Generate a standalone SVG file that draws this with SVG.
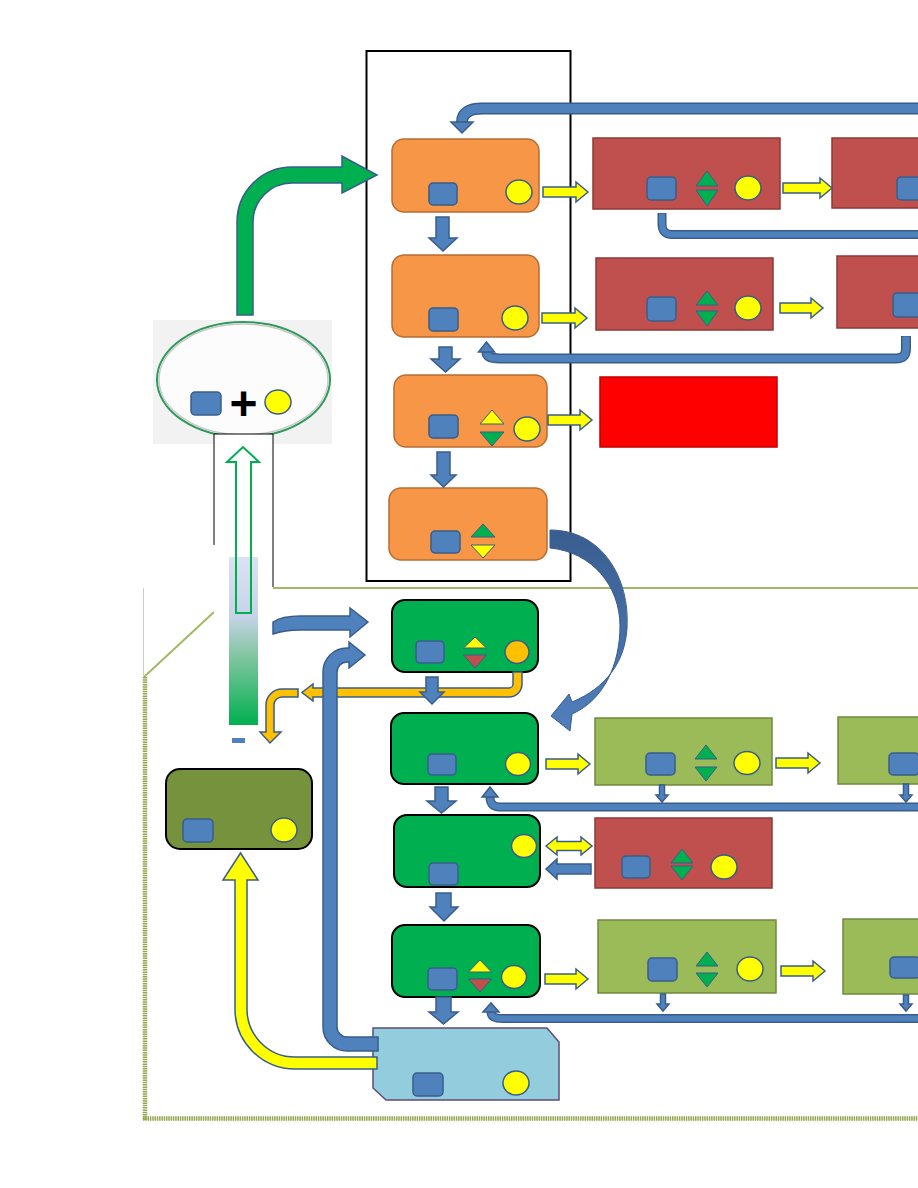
<svg xmlns="http://www.w3.org/2000/svg" width="918" height="1188" viewBox="0 0 918 1188">
<defs>
<style>
.sq{fill:#4f81bd;stroke:#385d8a;stroke-width:1.5}
.ye{fill:#ffff00;stroke:#385d8a;stroke-width:1.5}
.tg{fill:#00b050;stroke:#385d8a;stroke-width:1}
.ty{fill:#ffff00;stroke:#385d8a;stroke-width:1}
.tr{fill:#c0504d;stroke:#385d8a;stroke-width:1}
.org{fill:#f79646;stroke:#b66d31;stroke-width:1.5}
.red{fill:#c0504d;stroke:#8c3836;stroke-width:1.5}
.grn{fill:#00b050;stroke:#000;stroke-width:2}
.lgr{fill:#9bbb59;stroke:#71893f;stroke-width:1.5}
.ya{fill:#ffff00;stroke:#385d8a;stroke-width:1.5}
.ba{fill:#4f81bd;stroke:#385d8a;stroke-width:1.5}
.oa{fill:#ffc000;stroke:#385d8a;stroke-width:1.5}
.barO{fill:none;stroke:#385d8a}
.barI{fill:none;stroke:#4f81bd}
.olv{fill:none;stroke:#a3b866;stroke-width:2}
.dot{stroke:#94a650;stroke-width:4.5;stroke-dasharray:1.5 0.8}
</style>
<linearGradient id="tubeG" x1="0" y1="0" x2="0" y2="1">
<stop offset="0" stop-color="#dbe3f2"/>
<stop offset="0.35" stop-color="#c6d3e8"/>
<stop offset="0.6" stop-color="#7fc59e"/>
<stop offset="1" stop-color="#00b050"/>
</linearGradient>
<linearGradient id="curveG" x1="0" y1="0" x2="0" y2="1">
<stop offset="0" stop-color="#3a5d8f"/>
<stop offset="1" stop-color="#5080bd"/>
</linearGradient>
</defs>
<rect width="918" height="1188" fill="#fff"/>

<g id="frames">
<rect x="366.5" y="51" width="204" height="530" fill="none" stroke="#000" stroke-width="2"/>
<line x1="273" y1="588" x2="918" y2="588" class="olv"/>
<line x1="214" y1="612" x2="144" y2="677" class="olv"/>
<line x1="143.5" y1="588" x2="143.5" y2="677" stroke="#cccccc" stroke-width="1"/>
<line x1="145" y1="677" x2="145" y2="1120" class="dot"/>
<line x1="143" y1="1118.5" x2="918" y2="1118.5" class="dot"/>
</g>

<g id="source">
<rect x="153" y="320" width="179" height="124" fill="#f2f2f2"/>
<ellipse cx="243.5" cy="379.5" rx="86.5" ry="57.5" fill="#fcfcfc" stroke="#2e9a5c" stroke-width="2"/>
<ellipse cx="243.5" cy="379.5" rx="84.5" ry="55.5" fill="none" stroke="#c8c8c8" stroke-width="1.5"/>
<rect class="sq" x="191" y="392" width="30" height="23" rx="4"/>
<text x="243.5" y="420" font-family="Liberation Sans, Arial, sans-serif" font-size="48" font-weight="bold" text-anchor="middle" fill="#000">+</text>
<ellipse class="ye" cx="278" cy="402" rx="13" ry="12"/>
</g>

<g id="tube">
<rect x="214" y="434" width="59" height="314" fill="#fff"/>
<path d="M214 545 V434 H273 V587" fill="none" stroke="#000" stroke-width="1"/>
<rect x="229" y="557" width="29" height="168" fill="url(#tubeG)"/>
<path d="M236 613 V462 H227 L243 447 L259 462 H251 V613 Z" fill="none" stroke="#00b050" stroke-width="2"/>
<rect x="232" y="738" width="13" height="5" fill="#4f81bd"/>
</g>

<g id="n1">
<rect class="org" x="392" y="139" width="147" height="73" rx="12"/>
<rect class="sq" x="429" y="183" width="28" height="22" rx="4"/>
<ellipse class="ye" cx="519" cy="192" rx="13" ry="12"/>
</g>
<g id="n2">
<rect class="org" x="392" y="255" width="147" height="82" rx="12"/>
<rect class="sq" x="429" y="308" width="29" height="23" rx="4"/>
<ellipse class="ye" cx="515" cy="318" rx="13" ry="12"/>
</g>
<g id="n3">
<rect class="org" x="394" y="375" width="153" height="72" rx="12"/>
<rect class="sq" x="429" y="415" width="29" height="23" rx="4"/>
<path class="ty" d="M480 424 L492 410 L504 424 Z"/>
<path class="tg" d="M480 432 L504 432 L492 446 Z"/>
<ellipse class="ye" cx="527" cy="429" rx="13" ry="12"/>
</g>
<g id="n4">
<rect class="org" x="389" y="488" width="158" height="72" rx="12"/>
<rect class="sq" x="431" y="531" width="29" height="22" rx="4"/>
<path class="tg" d="M471 537 L483 524 L495 537 Z"/>
<path class="ty" d="M471 545 L495 545 L483 558 Z"/>
</g>

<g id="r1">
<rect class="red" x="593" y="138" width="187" height="71"/>
<rect class="sq" x="647" y="177" width="29" height="23" rx="4"/>
<path class="tg" d="M696 186 L707 171 L718 186 Z"/>
<path class="tg" d="M696 190 L718 190 L707 206 Z"/>
<ellipse class="ye" cx="748" cy="188" rx="13" ry="12"/>
</g>
<g id="r2">
<rect class="red" x="832" y="138" width="100" height="70"/>
<rect class="sq" x="897" y="177" width="30" height="23" rx="4"/>
</g>
<g id="r3">
<rect class="red" x="596" y="258" width="177" height="72"/>
<rect class="sq" x="647" y="297" width="29" height="24" rx="4"/>
<path class="tg" d="M696 305 L707 291 L718 305 Z"/>
<path class="tg" d="M696 311 L718 311 L707 326 Z"/>
<ellipse class="ye" cx="748" cy="308" rx="13" ry="12"/>
</g>
<g id="r4">
<rect class="red" x="837" y="256" width="100" height="72"/>
<rect class="sq" x="893" y="293" width="30" height="24" rx="4"/>
</g>
<g id="rAlarm">
<rect x="600" y="377" width="177" height="70" fill="#ff0000" stroke="#c00000" stroke-width="1.5"/>
</g>

<g id="g1">
<rect class="grn" x="392" y="600" width="146" height="72" rx="13"/>
<rect class="sq" x="416" y="641" width="28" height="22" rx="4"/>
<path class="ty" d="M463.5 648 L475 637 L486.5 648 Z"/>
<path class="tr" d="M463.5 655 L486.5 655 L475 668 Z"/>
<ellipse cx="517" cy="652" rx="12" ry="11.5" fill="#ffc000" stroke="#385d8a" stroke-width="1.5"/>
</g>
<g id="g2">
<rect class="grn" x="391" y="713" width="147" height="71" rx="13"/>
<rect class="sq" x="428" y="754" width="28" height="21" rx="4"/>
<ellipse class="ye" cx="518" cy="764" rx="12.5" ry="11.5"/>
</g>
<g id="g3">
<rect class="grn" x="394" y="815" width="146" height="72" rx="13"/>
<rect class="sq" x="429" y="863" width="29" height="22" rx="4"/>
<ellipse class="ye" cx="524" cy="846" rx="12.5" ry="11.5"/>
</g>
<g id="g4">
<rect class="grn" x="392" y="925" width="148" height="72" rx="13"/>
<rect class="sq" x="428" y="968" width="29" height="22" rx="4"/>
<path class="ty" d="M468.5 972 L480 960 L491.5 972 Z"/>
<path class="tr" d="M468.5 979 L491.5 979 L480 992 Z"/>
<ellipse class="ye" cx="514" cy="977" rx="12.5" ry="11.5"/>
</g>

<g id="lg1">
<rect class="lgr" x="595" y="718" width="177" height="67"/>
<rect class="sq" x="646" y="753" width="29" height="22" rx="4"/>
<path class="tg" d="M695 759 L706 745 L717 759 Z"/>
<path class="tg" d="M695 767 L717 767 L706 781 Z"/>
<ellipse class="ye" cx="747" cy="763" rx="13" ry="11.5"/>
</g>
<g id="lg2">
<rect class="lgr" x="838" y="717" width="100" height="67"/>
<rect class="sq" x="889" y="753" width="30" height="22" rx="4"/>
</g>
<g id="r5">
<rect class="red" x="595" y="818" width="177" height="70"/>
<rect class="sq" x="622" y="856" width="28" height="22" rx="4"/>
<path class="tg" d="M671 863 L682 849 L693 863 Z"/>
<path class="tg" d="M671 866 L693 866 L682 880 Z"/>
<ellipse class="ye" cx="724" cy="867" rx="13" ry="12"/>
</g>
<g id="lg3">
<rect class="lgr" x="598" y="920" width="178" height="73"/>
<rect class="sq" x="648" y="958" width="29" height="23" rx="4"/>
<path class="tg" d="M696 966 L707 952 L718 966 Z"/>
<path class="tg" d="M696 973 L718 973 L707 987 Z"/>
<ellipse class="ye" cx="750" cy="969" rx="13" ry="12"/>
</g>
<g id="lg4">
<rect class="lgr" x="843" y="919" width="100" height="75"/>
<rect class="sq" x="890" y="957" width="30" height="21" rx="4"/>
</g>

<g id="olive">
<rect x="166" y="769" width="146" height="80" rx="14" fill="#76923c" stroke="#000" stroke-width="2"/>
<rect class="sq" x="183" y="819" width="30" height="23" rx="4"/>
<ellipse class="ye" cx="284" cy="830" rx="13" ry="12"/>
</g>

<g id="bottom">
<path d="M373 1028 H547 L559 1042 V1100 H386 L373 1088 Z" fill="#93cddd" stroke="#604a7b" stroke-width="1.5"/>
<rect class="sq" x="413" y="1073" width="30" height="23" rx="4"/>
<ellipse class="ye" cx="516" cy="1083" rx="13" ry="12"/>
</g>

<g id="connectors">
<path d="M237 315 V222 A55 55 0 0 1 292 167 H342 V156 L377 175 L342 193 V183 H292 A39 39 0 0 0 253 222 V315 Z" fill="#00b050" stroke="#385d8a" stroke-width="1.5"/>
<path class="barO" stroke-width="12" d="M920 108.5 H482 Q462 108.5 462 122"/>
<path class="barI" stroke-width="9" d="M920 108.5 H482 Q462 108.5 462 122.5"/>
<path class="ba" d="M451 122 L473 122 L462 133 Z"/>
<path class="barO" stroke-width="9" d="M662 213 V224 Q662 234.5 672 234.5 H920"/>
<path class="barI" stroke-width="6" d="M662 213.5 V224 Q662 234.5 672 234.5 H920"/>
<path class="barO" stroke-width="10" d="M906 336 V349 Q906 358.5 896 358.5 H500 Q486.5 358.5 486.5 352"/>
<path class="barI" stroke-width="7" d="M906 336.5 V349 Q906 358.5 896 358.5 H500 Q486.5 358.5 486.5 352.5"/>
<path class="ba" d="M478.5 352 L494.5 352 L486.5 342 Z"/>
<path class="ba" d="M436 217 H449 V238 H457 L443 251 L429 238 H436 Z"/>
<path class="ba" d="M439 347 H452 V359 H460 L445.5 372 L431 359 H439 Z"/>
<path class="ba" d="M437 452 H450 V475 H456 L443.5 487 L431 475 H437 Z"/>
<path class="ya" d="M543 187 H576 V182 L588 192 L576 202 V197 H543 Z"/>
<path class="ya" d="M542 313 H575 V308 L587 318 L575 328 V323 H542 Z"/>
<path class="ya" d="M548 415 H580 V410 L592 420 L580 430 V425 H548 Z"/>
<path class="ya" d="M783 183 H820 V178 L832 188 L820 198 V193 H783 Z"/>
<path class="ya" d="M780 303 H811 V298 L823 308 L811 318 V313 H780 Z"/>
<path class="ya" d="M546 759 H578 V754 L590 764 L578 774 V769 H546 Z"/>
<path class="ya" d="M776 758 H808 V753 L820 763 L808 773 V768 H776 Z"/>
<path class="ya" d="M545 974 H576 V969 L588 979 L576 989 V984 H545 Z"/>
<path class="ya" d="M781 966 H813 V961 L825 971 L813 981 V976 H781 Z"/>
<path class="ya" d="M546 846 L557 837 V841.5 H581 V837 L592 846 L581 855 V850.5 H557 V855 Z"/>
<path class="ba" d="M591 864 H557 V859 L546 869 L557 879 V874 H591 Z"/>
<path d="M550 530 C602 530 630 578 627 628 C625 662 606 688 572 702 L569 694 L551 716 L570 731 L572 714 C604 700 620 664 620 626 C620 586 592 552 550 548 Z" fill="url(#curveG)" stroke="#385d8a" stroke-width="1"/>
<path class="ba" d="M273 622 Q282 616 300 616 H350 V608 L368 622 L350 637 V630 H300 Q285 630 273 634 Z"/>
<path class="oa" d="M522 672 V684 A13 13 0 0 1 509 697 H313 V701 L302 692.5 L313 684 V688 H509 A4 4 0 0 0 513 684 V672 Z"/>
<path class="oa" d="M298 689 V697 H282 A8 8 0 0 0 274 705 V732 H281 L270 743 L260 732 H266 V705 A16 16 0 0 1 282 689 Z"/>
<path class="ba" d="M323 1027 V672 A24 24 0 0 1 347 648 H349 V642 L365 655 L349 668 V662 H347 A10 10 0 0 0 337 672 V1027 A10 10 0 0 0 347 1037 H378 V1051 H347 A24 24 0 0 1 323 1027 Z"/>
<path class="ya" d="M235 880 H223 L240.5 853 L258 880 H247 V1009 A48 48 0 0 0 295 1057 H377 V1069 H295 A60 60 0 0 1 235 1009 Z"/>
<path class="ba" d="M426 677 H438 V692 H444 L432 704 L420 692 H426 Z"/>
<path class="ba" d="M435 787 H448 V801 H456 L441.5 813 L427 801 H435 Z"/>
<path class="ba" d="M436 893 H451 V907 H458 L444 921 L430 907 H436 Z"/>
<path class="ba" d="M436 997 H451 V1012 H458 L443.5 1024 L429 1012 H436 Z"/>
<path class="barO" stroke-width="9" d="M920 807 H500 Q490 807 490 797"/>
<path class="barI" stroke-width="6" d="M920 807 H500 Q490 807 490 797.5"/>
<path class="ba" d="M482 797 L498 797 L490 787 Z"/>
<path class="barO" stroke-width="9" d="M920 1018.5 H502 Q491 1018.5 491 1012"/>
<path class="barI" stroke-width="6" d="M920 1018.5 H502 Q491 1018.5 491 1012.5"/>
<path class="ba" d="M483 1012 L499 1012 L491 1003 Z"/>
<path class="ba" d="M659.5 785 H664.5 V795 H668 L662 802 L656 795 H659.5 Z"/>
<path class="ba" d="M903.5 784 H908.5 V795 H912 L906 802 L900 795 H903.5 Z"/>
<path class="ba" d="M660.5 994 H665.5 V1004 H669 L663 1011 L657 1004 H660.5 Z"/>
<path class="ba" d="M903.5 995 H908.5 V1004 H912 L906 1011 L900 1004 H903.5 Z"/>
</g>
</svg>
